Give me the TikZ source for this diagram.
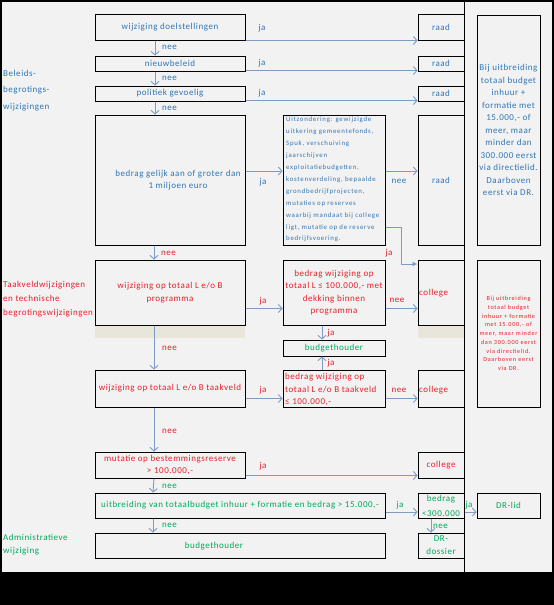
\documentclass[tikz,border=0pt]{standalone}
\usepackage{fontspec}
\setmainfont[LetterSpace=6]{Carlito}
\newfontfamily\smallfam[LetterSpace=11]{Carlito}
\usetikzlibrary{arrows.meta,calc}
\definecolor{bg}{HTML}{F2F2F2}
\definecolor{tblue}{RGB}{46,117,182}
\definecolor{tred}{RGB}{235,30,40}
\definecolor{tgreen}{RGB}{0,168,90}
\definecolor{arr}{RGB}{125,155,195}
\definecolor{band}{RGB}{232,230,218}
\begin{document}
\begin{tikzpicture}[x=1pt,y=-1pt,
  every node/.style={font=\fontsize{9}{12.5}\selectfont},
  box/.style={draw=black, line width=1pt, inner sep=0pt, align=center},
  arw/.style={draw=arr, line width=0.9pt, -{Straight Barb[length=3.5pt,width=8pt]}},
  farw/.style={draw=arr, line width=0.9pt, -{Latex[length=5pt,width=5pt]}},
  lbl/.style={inner sep=0pt},
]
\useasboundingbox (0,0) rectangle (554,605);
\fill[bg] (0,0) rectangle (554,573);
\fill[black] (0,573) rectangle (554,605);
\draw[black, line width=2pt] (1,1) rectangle (553,573);
\draw[black, line width=1pt] (464,0) -- (464,573);
% bands
\fill[band] (95,325) rectangle (245,338);
\fill[band] (418,325) rectangle (464,338);

% left column
\node[box, minimum width=150pt, minimum height=26pt, text=tblue] (d1) at (170,27) {wijziging doelstellingen};
\node[box, minimum width=150pt, minimum height=15pt, text=tblue] (d2) at (170,63.5) {nieuwbeleid};
\node[box, minimum width=150pt, minimum height=15pt, text=tblue] (d3) at (170,93.5) {politiek gevoelig};
\node[box, minimum width=150pt, minimum height=130pt] (d4) at (170,180) {};
\node[lbl, text=tblue, align=center] (d4t) at (178,180) {bedrag gelijk aan of groter dan\\1 miljoen euro};
\node[box, minimum width=150pt, minimum height=65pt, text=tred] (p1) at (170,292.5) {wijziging op totaal L e/o B\\programma};
\node[box, minimum width=150pt, minimum height=37pt, text=tred] (p2) at (170,388.5) {wijziging op totaal L e/o B taakveld};
\node[box, minimum width=150pt, minimum height=26pt, text=tred] (p3) at (170,465) {mutatie op bestemmingsreserve\\> 100.000,-};
\node[box, minimum width=290pt, minimum height=25pt, text=tgreen] (p4) at (240,505.5) {uitbreiding van totaalbudget inhuur + formatie en bedrag > 15.000,-};
\node[box, minimum width=290pt, minimum height=25pt] (p5) at (240,545.5) {};
\node[lbl, text=tgreen] (p5t) at (214,546) {budgethouder};

% middle column
\node[box, minimum width=102pt, minimum height=130pt] (u1) at (334,180) {};
\node[lbl, text=tblue, align=left, anchor=north west, font=\smallfam\fontsize{6.8}{11.9}\selectfont] (u1t) at (286,117)
 {Uitzondering: gewijzigde\\uitkering gemeentefonds,\\Spuk, verschuiving\\jaarschijven\\exploitatiebudgetten,\\kostenverdeling, bepaalde\\grondbedrijfprojecten,\\mutaties op reserves\\waarbij mandaat bij college\\ligt, mutatie op de reserve\\bedrijfsvoering.};
\node[box, minimum width=102pt, minimum height=65pt, text=tred] (m1) at (334,292.5) {bedrag wijziging op\\totaal L ≤ 100.000,- met\\dekking binnen\\programma};
\node[box, minimum width=102pt, minimum height=16pt, text=tgreen] (bh) at (334,348) {budgethouder};
\node[box, minimum width=102pt, minimum height=37pt] (m2) at (334,388.5) {};
\node[lbl, text=tred, align=left, anchor=west] (m2t) at (285,389.5) {bedrag wijziging op\\totaal L e/o B taakveld\\≤ 100.000,-};

% right column
\node[box, minimum width=46pt, minimum height=26pt, text=tblue] (r1) at (441,27) {raad};
\node[box, minimum width=46pt, minimum height=15pt, text=tblue] (r2) at (441,63.5) {raad};
\node[box, minimum width=46pt, minimum height=15pt, text=tblue] (r3) at (441,93.5) {raad};
\node[box, minimum width=46pt, minimum height=130pt, text=tblue] (r4) at (441,180) {raad};
\node[box, minimum width=46pt, minimum height=65pt] (c1) at (441,292.5) {};
\node[lbl, text=tred, anchor=west] (c1t) at (419,293) {college};
\node[box, minimum width=46pt, minimum height=37pt] (c2) at (441,388.5) {};
\node[lbl, text=tred, anchor=west] (c2t) at (419,390) {college};
\node[box, minimum width=46pt, minimum height=26pt, text=tred] (c3) at (441,465) {college};
\node[box, minimum width=46pt, minimum height=25pt, text=tgreen, font=\fontsize{9}{15}\selectfont] (b1) at (441,505.5) {bedrag\\<300.000};
\node[box, minimum width=46pt, minimum height=25pt, text=tgreen, font=\fontsize{9}{13}\selectfont] (dr) at (441,545.5) {DR-\\dossier};

% far right
\node[box, minimum width=63pt, minimum height=230pt, text=tblue] (f1) at (508.5,130) {Bij uitbreiding\\totaal budget\\inhuur +\\formatie met\\15.000,- of\\meer, maar\\minder dan\\300.000 eerst\\via directielid.\\Daarboven\\eerst via DR.};
\node[box, minimum width=63pt, minimum height=147pt, text=tred, font=\smallfam\fontsize{6.2}{8.75}\selectfont] (f2) at (508.5,333.5) {Bij uitbreiding\\totaal budget\\inhuur + formatie\\met 15.000,- of\\meer, maar minder\\dan 300.000 eerst\\via directielid.\\Daarboven eerst\\via DR.};
\node[box, minimum width=63pt, minimum height=25pt, text=tgreen] (f3) at (508.5,505.5) {DR-lid};

% side labels
\node[lbl, text=tblue, align=left, anchor=north west, font=\fontsize{9}{16.5}\selectfont] (s1) at (3,70) {Beleids-\\begrotings-\\wijzigingen};
\node[lbl, text=tred, align=left, anchor=north west, font=\fontsize{9}{14}\selectfont] (s2) at (3,281) {Taakveldwijzigingen\\en technische\\begrotingswijzigingen};
\node[lbl, text=tgreen, align=left, anchor=north west, font=\fontsize{9}{13}\selectfont] (s3) at (3,534) {Administratieve\\wijziging};

% connectors
\draw[arw] (d1.south east) -- (r1.south west);
\draw[arw] ([yshift=1pt]d2.south east) -- ([yshift=1pt]r2.south west);
\draw[arw] ([yshift=1pt]d3.south east) -- ([yshift=1pt]r3.south west);
\draw[arw] ([yshift=9pt]d4.east) -- ([yshift=9pt]u1.west);
\draw[arw] ([yshift=9pt]u1.east) -- ([yshift=9pt]r4.west);
\draw[farw] ([yshift=-47pt]u1.east) -- ++(16,0) |- ([yshift=28.5pt]c1.west);
\draw[arw] ([xshift=-15pt]d1.south) -- ([xshift=-15pt]d2.north);
\draw[arw] ([xshift=-15pt]d2.south) -- ([xshift=-15pt]d3.north);
\draw[arw] ([xshift=-15pt]d3.south) -- ([xshift=-15pt]d4.north);
\draw[arw] ([xshift=-16pt]d4.south) -- ([xshift=-16pt]p1.north);
\draw[arw] ([yshift=-16pt]p1.east) -- ([yshift=-16pt]m1.west);
\draw[arw] ([yshift=-16pt]m1.east) -- ([yshift=-16pt]c1.west);
\draw[arw] ([xshift=-12pt]m1.south) -- ([xshift=-12pt]bh.north);
\draw[arw] ([xshift=-12pt]m2.north) -- ([xshift=-12pt]bh.south);
\draw[arw] ([xshift=-16pt]p1.south) -- ([xshift=-16pt]p2.north);
\draw[arw] ([yshift=-10pt]p2.east) -- ([yshift=-10pt]m2.west);
\draw[arw] ([yshift=-10pt]m2.east) -- ([yshift=-10pt]c2.west);
\draw[arw] ([xshift=-16pt]p2.south) -- ([xshift=-16pt]p3.north);
\draw[arw] ([yshift=-10.5pt]p3.east) -- ([yshift=-10.5pt]c3.west);
\draw[arw] ([xshift=-16pt]p3.south) -- ([xshift=-87pt]p4.north);
\draw[arw] ([yshift=-6.5pt]p4.east) -- ([yshift=-6.5pt]b1.west);
\draw[arw] ([xshift=-10pt]b1.south) -- ([xshift=-10pt]dr.north);
\draw[arw] ([yshift=-6.5pt]b1.east) -- ([yshift=-6.5pt]f3.west);
\draw[arw] ([xshift=-87pt]p4.south) -- ([xshift=-87pt]p5.north);

% connector labels
\node[lbl, text=tblue] (l1) at (262,28) {ja};
\node[lbl, text=tblue] (l2) at (262,63) {ja};
\node[lbl, text=tblue] (l3) at (262,93) {ja};
\node[lbl, text=tblue] (l4) at (263,182) {ja};
\node[lbl, text=tblue] (l5) at (399,181) {nee};
\node[lbl, text=tred] (l6) at (389,253) {ja};
\node[lbl, text=tblue, anchor=west] (n1) at (162,47) {nee};
\node[lbl, text=tblue, anchor=west] (n2) at (162,78) {nee};
\node[lbl, text=tblue, anchor=west] (n3) at (162,108) {nee};
\node[lbl, text=tred, anchor=west] (n4) at (161,253) {nee};
\node[lbl, text=tred] (l7) at (263,301) {ja};
\node[lbl, text=tred] (l8) at (397,300) {nee};
\node[lbl, text=tred] (l9) at (331,333) {ja};
\node[lbl, text=tred] (l10) at (331,363) {ja};
\node[lbl, text=tred, anchor=west] (n5) at (162,348) {nee};
\node[lbl, text=tred] (l11) at (263,390) {ja};
\node[lbl, text=tred] (l12) at (399,390) {nee};
\node[lbl, text=tred, anchor=west] (n6) at (162,431) {nee};
\node[lbl, text=tred] (l13) at (263,466) {ja};
\node[lbl, text=tgreen, anchor=west] (n7) at (162,486) {nee};
\node[lbl, text=tgreen] (l14) at (400,505) {ja};
\node[lbl, text=tgreen, anchor=west] (n8) at (433,526) {nee};
\node[lbl, text=tgreen] (l15) at (469,505) {ja};
\node[lbl, text=tgreen, anchor=west] (n9) at (162,525) {nee};
\end{tikzpicture}
\end{document}
